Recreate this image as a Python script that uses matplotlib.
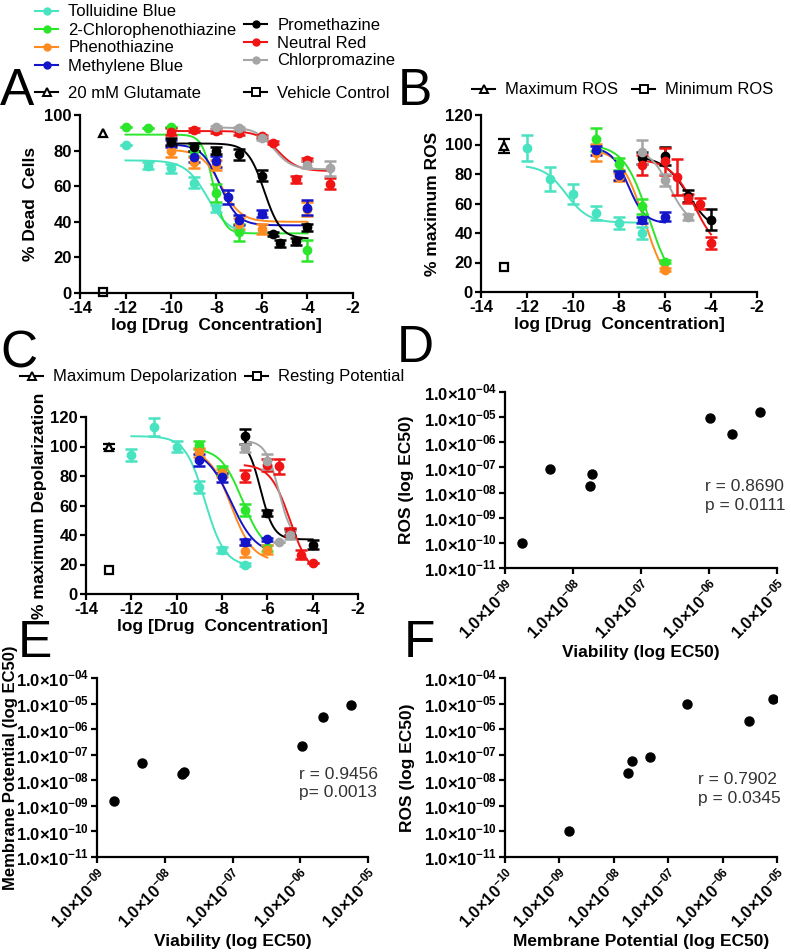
import matplotlib
matplotlib.use('Agg')
import matplotlib.pyplot as plt
import numpy as np
from matplotlib.lines import Line2D
from matplotlib.ticker import NullLocator

plt.rcParams['font.family'] = ['Liberation Sans', 'DejaVu Sans']
plt.rcParams['font.weight'] = 'bold'
plt.rcParams['axes.labelweight'] = 'bold'
plt.rcParams['axes.unicode_minus'] = False
plt.rcParams['mathtext.fontset'] = 'custom'
plt.rcParams['mathtext.rm'] = 'Liberation Sans'
plt.rcParams['axes.linewidth'] = 1.6

W, H = 791, 952

compounds = ['Tolluidine Blue', '2-Chlorophenothiazine', 'Phenothiazine', 'Methylene Blue',
             'Promethazine', 'Neutral Red', 'Chlorpromazine']
colors = ['#48E3C0', '#2CE62C', '#FF8A1F', '#1414C8', '#000000', '#F01414', '#A5A5A5']

# ---- panel A: % dead cells (viability)
a_x = [[-12, -11, -10, -9, -8, -7],
       [-12, -11, -10, -9, -8, -7, -4],
       [-10, -9, -8, -7, -6, -4],
       [-10, -9, -8, -7.5, -7, -6, -4],
       [-10, -9, -8, -7, -6, -5.5, -5.2, -4.5, -4],
       [-10, -9, -8, -7, -6, -5.5, -4.5, -4, -3],
       [-8, -7, -6, -4, -3]]
a_y = [[83, 71.5, 70, 62, 47.5, 37],
       [93, 92.5, 93, 80, 56, 34, 24],
       [79.5, 73.5, 72, 39, 36, 47],
       [84, 76.5, 74, 54, 41, 44.5, 48],
       [85, 82, 80, 78, 66, 33, 28, 29, 37],
       [90.5, 91.5, 91, 90, 88, 84.5, 64, 75, 61.5],
       [93, 92.5, 87, 72, 70]]
a_err = [[0, 2, 2.5, 3, 2, 2],
         [0, 0, 0, 3, 5, 5, 6],
         [3, 3, 3, 3, 3, 4],
         [2, 3, 3, 4, 3, 2, 4],
         [2, 2, 2, 3, 3, 1, 2, 2, 2],
         [2, 1, 1, 1, 1, 1, 2, 1, 3],
         [1, 1, 1, 2, 4]]
# top, bottom, logEC50, hill
a_fit = [(74.5, 33, -8.4, 0.9), (89, 33.5, -8.15, 1.8), (80.5, 40, -7.8, 1.0),
         (83.5, 38, -7.85, 1.1), (84, 30.5, -5.9, 1.2), (91, 68.5, -5.3, 1.0),
         (93, 69.5, -5.5, 1.1)]
a_ctrl_y = [90, 0.5]

# ---- panel B: % maximum ROS
b_x = [[-12, -11, -10, -9, -8, -7],
       [-9, -8, -7, -6],
       [-9, -8, -6],
       [-9, -8, -7, -6],
       [-7, -6, -5, -4],
       [-7, -6, -5.5, -5, -4.5, -4],
       [-7, -6, -5]]
b_y = [[97.5, 76.5, 66.5, 53.5, 47, 40],
       [103.5, 87, 58, 20.5],
       [94.5, 78, 15],
       [96, 79, 49, 51],
       [91, 92, 65, 49],
       [86, 88.5, 78, 63.5, 60, 33],
       [95, 76, 51]]
b_err = [[9, 8, 7, 5, 4, 4],
         [8, 4, 5, 1],
         [6, 3, 1],
         [3, 3, 2, 3],
         [4, 6, 4, 7],
         [7, 9, 12, 3, 4, 4],
         [8, 4, 2]]
b_fit = [(86, 47, -10.3, 0.9), (100, 0, -6.7, 0.8), (97, 0, -6.9, 0.85),
         (98, 46.5, -7.6, 1.2), (92, 40, -5.0, 0.8), (90, 25, -4.7, 0.8),
         (97, 45, -5.8, 1.0)]
b_ctrl_y = [99, 17]
b_ctrl_err = [5, 1]

# ---- panel C: % maximum depolarization
c_x = [[-12, -11, -10, -9, -8, -7],
       [-9, -8, -7, -6],
       [-9, -8, -7, -6],
       [-9, -8, -7, -6],
       [-7, -6, -5, -4],
       [-7, -6, -5.5, -5, -4.5, -4],
       [-7, -6, -5.5, -5]]
c_y = [[94.5, 113, 100, 72.5, 30, 20],
       [101, 84, 57, 31],
       [96, 82, 29, 30],
       [91, 79, 35, 37],
       [107, 55, 42, 33.5],
       [80, 87.5, 86.5, 42, 26.5, 21],
       [99, 90, 35.5, 40]]
c_err = [[4, 6, 4, 4, 2, 1],
         [3, 3, 4, 2],
         [3, 3, 4, 3],
         [4, 3, 2, 1],
         [5, 2, 2, 3],
         [4, 4, 5, 3, 3, 0],
         [3, 5, 0, 3]]
c_fit = [(107, 19, -8.75, 1.0), (99, 28, -7.1, 0.9), (98, 22, -7.6, 0.9),
         (98, 27, -7.6, 0.8), (105, 37, -6.3, 1.5), (88, 12, -5.0, 1.0),
         (104, 36, -5.5, 1.5)]
c_ctrl_y = [100, 16]
c_ctrl_err = [2, 0]

# ---- log EC50 values (one per compound) for panels D-F
viab_logec50 = [-8.75, -8.34, -7.75, -7.72, -5.98, -5.66, -5.25]
ros_logec50 = [-10.0, -7.08, -7.72, -7.26, -5.02, -5.68, -4.81]
mp_logec50 = [-8.82, -7.34, -7.74, -7.66, -6.66, -5.51, -5.07]

TICK_FS = 12
LABEL_FS = 12.5
LEGEND_FS = 12


def logistic(x, top, bottom, ec50, hill):
    return bottom + (top - bottom) / (1 + 10 ** ((x - ec50) * hill))


def fbox(left, top, right, bottom):
    return [left / W, 1 - bottom / H, (right - left) / W, (bottom - top) / H]


def style(ax, ylab_x):
    for s in ['top', 'right']:
        ax.spines[s].set_visible(False)
    ax.tick_params(width=1.6, length=4, direction='out', pad=2)
    # right edge of the rotated y label, in axes fraction
    ax.yaxis.set_label_coords(ylab_x, 0.5)


def dose_panel(ax, xs, ys, errs, fits, ylim, yticks, ylabel, ylab_x):
    for i in range(len(compounds)):
        ax.errorbar(xs[i], ys[i], yerr=errs[i], fmt='o', color=colors[i], ms=6,
                    elinewidth=1.8, capsize=4, capthick=1.8, zorder=3)
        xx = np.linspace(min(xs[i]), max(xs[i]), 200)
        ax.plot(xx, logistic(xx, *fits[i]), color=colors[i], lw=1.4, zorder=2)
    ax.set_xlim(-14, -2)
    ax.set_ylim(ylim)
    xt = np.arange(-14, -1, 2)
    ax.set_xticks(xt, ['%d' % v for v in xt], fontsize=TICK_FS, fontweight='bold')
    ax.set_yticks(yticks, ['%d' % v for v in yticks], fontsize=TICK_FS, fontweight='bold')
    ax.set_xlabel('log [Drug  Concentration]', fontsize=LABEL_FS, fontweight='bold', labelpad=1)
    ax.set_ylabel(ylabel, fontsize=LABEL_FS, fontweight='bold')
    style(ax, ylab_x)


def sci_label(e):
    return '1.0\u00d710$^{-%02d}$' % (-e)


def scatter_panel(ax, xv, yv, xlim_exp, xlabel, ylabel, r_txt, tpos, ylab_x, ylab_fs):
    ax.plot(10.0 ** np.array(xv), 10.0 ** np.array(yv), 'o', color='black', ms=6.5)
    ax.set_xscale('log')
    ax.set_yscale('log')
    ax.set_xlim(10.0 ** xlim_exp[0], 10.0 ** xlim_exp[1])
    ax.set_ylim(1e-11, 1e-4)
    xe = np.arange(xlim_exp[0], xlim_exp[1] + 1)
    ye = np.arange(-11, -3)
    ax.set_xticks(10.0 ** xe, [sci_label(e) for e in xe], fontsize=TICK_FS, fontweight='bold',
                  rotation=45, ha='right', rotation_mode='anchor')
    ax.set_yticks(10.0 ** ye, [sci_label(e) for e in ye], fontsize=TICK_FS, fontweight='bold')
    ax.xaxis.set_minor_locator(NullLocator())
    ax.yaxis.set_minor_locator(NullLocator())
    ax.set_xlabel(xlabel, fontsize=LABEL_FS, fontweight='bold', labelpad=2)
    ax.set_ylabel(ylabel, fontsize=ylab_fs, fontweight='bold')
    style(ax, ylab_x)
    ax.text(tpos[0], tpos[1], r_txt, transform=ax.transAxes, fontsize=12.5,
            fontweight='normal', color='#333333', va='center', linespacing=1.3)


fig = plt.figure(figsize=(W / 100, H / 100), dpi=100)

axA = fig.add_axes(fbox(80, 115, 353, 293))
axB = fig.add_axes(fbox(481, 115, 757, 292))
axC = fig.add_axes(fbox(86, 417, 358, 594))
axD = fig.add_axes(fbox(505, 392, 777, 568))
axE = fig.add_axes(fbox(97, 678, 368, 857))
axF = fig.add_axes(fbox(505, 678, 777, 857))

dose_panel(axA, a_x, a_y, a_err, a_fit, (0, 100), np.arange(0, 101, 20), '% Dead  Cells', -0.155)
axA.plot([-13], [a_ctrl_y[0]], '^', mfc='white', mec='black', mew=1.6, ms=6)
axA.plot([-13], [a_ctrl_y[1]], 's', mfc='white', mec='black', mew=1.6, ms=6, clip_on=False)

dose_panel(axB, b_x, b_y, b_err, b_fit, (0, 120), np.arange(0, 121, 20), '% maximum ROS', -0.15)
axB.errorbar([-13], [b_ctrl_y[0]], yerr=[b_ctrl_err[0]], fmt='^', mfc='white', mec='black',
             color='black', mew=1.6, ms=6, capsize=4, elinewidth=1.6)
axB.plot([-13], [b_ctrl_y[1]], 's', mfc='white', mec='black', mew=1.6, ms=6)

dose_panel(axC, c_x, c_y, c_err, c_fit, (0, 120), np.arange(0, 121, 20),
           '% maximum Depolarization', -0.145)
axC.errorbar([-13], [c_ctrl_y[0]], yerr=[c_ctrl_err[0]], fmt='^', mfc='white', mec='black',
             color='black', mew=1.6, ms=6, capsize=4, elinewidth=1.6)
axC.plot([-13], [c_ctrl_y[1]], 's', mfc='white', mec='black', mew=1.6, ms=6)

scatter_panel(axD, viab_logec50, ros_logec50, (-9, -5), 'Viability (log EC50)',
              'ROS (log EC50)', 'r = 0.8690\np = 0.0111', (0.735, 0.41), -0.335, LABEL_FS)
scatter_panel(axE, viab_logec50, mp_logec50, (-9, -5), 'Viability (log EC50)',
              'Membrane Potential (log EC50)', 'r = 0.9456\np= 0.0013', (0.745, 0.41), -0.29, 12)
scatter_panel(axF, mp_logec50, ros_logec50, (-10, -5), 'Membrane Potential (log EC50)',
              'ROS (log EC50)', 'r = 0.7902\np = 0.0345', (0.71, 0.38), -0.33, LABEL_FS)


def place_legend(handle, label, text_x, center_y):
    fig.legend([handle], [label], loc='center left',
               bbox_to_anchor=((text_x - 33) / W, 1 - center_y / H),
               frameon=False, handlelength=1.4, handletextpad=0.6,
               borderpad=0, borderaxespad=0,
               prop={'family': 'Liberation Sans', 'weight': 'normal', 'size': LEGEND_FS})


def dot_handle(c):
    return Line2D([0], [0], color=c, marker='o', ms=5, lw=1.5)


def open_handle(m):
    return Line2D([0], [0], color='black', marker=m, ms=5.5, mfc='white', mew=1.4, lw=1.5)


left_rows = [12, 30, 48, 66]
right_rows = [25, 43, 61]
for i in range(4):
    place_legend(dot_handle(colors[i]), compounds[i], 68, left_rows[i])
for i in range(3):
    place_legend(dot_handle(colors[4 + i]), compounds[4 + i], 277, right_rows[i])
place_legend(open_handle('^'), '20 mM Glutamate', 68, 93)
place_legend(open_handle('s'), 'Vehicle Control', 277, 93)
place_legend(open_handle('^'), 'Maximum ROS', 505, 90)
place_legend(open_handle('s'), 'Minimum ROS', 665, 90)
place_legend(open_handle('^'), 'Maximum Depolarization', 53, 377)
place_legend(open_handle('s'), 'Resting Potential', 278, 377)

for letter, px, py in [('A', 0, 105), ('B', 398, 105), ('C', 0, 368), ('D', 397, 362),
                       ('E', 18, 657), ('F', 404, 657)]:
    fig.text(px / W, 1 - py / H, letter, fontsize=37, fontweight='normal', va='baseline')

fig.savefig('out.png', dpi=100)
